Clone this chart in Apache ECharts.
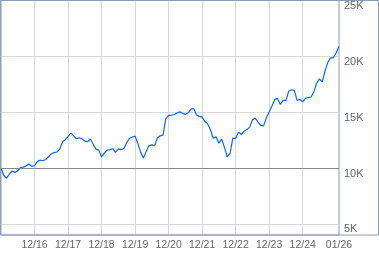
<!DOCTYPE html>
<html><head><meta charset="utf-8">
<script src="https://cdn.jsdelivr.net/npm/echarts@6/dist/echarts.min.js"></script>
<style>html,body{margin:0;padding:0;background:#fff}#c{width:379px;height:255px}</style>
</head><body><div id="c"></div>
<script>
// Monthly, Dec 2015 .. Jan 2026
const startYear = 2015, startMonth = 12;
const values = [
10000,9330,9080,9460,9730,9610,9750,10050,10080,10190,10350,10150,
10200,10570,10710,10650,10760,11010,11260,11380,11430,11680,12330,12530,
12800,13120,12880,12620,12710,12620,12410,12360,12590,12120,11690,11600,
10990,11330,11610,11640,11720,11390,11710,11640,11750,12280,12650,12780,
12850,12200,11400,10900,11490,12010,12070,12000,12700,12880,12940,14430,
14710,14740,14790,14920,15030,14900,14800,14940,15280,15330,14740,14620,
14550,14160,13950,13400,12660,12790,12220,12590,11840,10990,11300,12680,
12650,13210,13000,13280,13450,13640,14300,14480,14100,13810,13770,14490,
15020,15550,16140,16230,15690,16050,16050,16870,17010,16950,16050,16140,
15930,16230,16310,16360,16810,17580,17980,17710,18700,19460,19870,19870,
20320,20900
];
const categories = values.map((v, i) => {
  const m0 = startMonth - 1 + i;
  const y = startYear + Math.floor(m0 / 12);
  const m = (m0 % 12) + 1;
  return String(m).padStart(2, '0') + '/' + String(y % 100).padStart(2, '0');
});
const yTicks = [5000, 10000, 15000, 20000, 25000];
const baseline = 10000;
const last = categories.length - 1;

const isGrid = (i, v) => v.startsWith('12/') && i > 0 && i < last - 6;
const isLabel = (i, v) => isGrid(i, v) || i === last;

const chart = echarts.init(document.getElementById('c'), null, {renderer: 'canvas'});
chart.setOption({
  animation: false,
  backgroundColor: '#fff',
  grid: {left: 1, right: 40, top: 0.5, bottom: 20, show: true, borderColor: '#8a9cb8', borderWidth: 1, backgroundColor: 'transparent'},
  xAxis: {
    type: 'category', data: categories, boundaryGap: false,
    axisLine: {show: false}, axisTick: {show: false},
    axisLabel: {interval: isLabel, color: '#666', fontFamily: 'Liberation Sans, Arial, sans-serif', fontSize: 10.5, margin: 5},
    splitLine: {show: true, interval: isGrid, lineStyle: {color: '#d9d9d9', width: 1}}
  },
  yAxis: {
    type: 'value', position: 'right', min: 4000, max: 25000,
    axisLine: {show: false},
    axisTick: {show: false, customValues: yTicks},
    axisLabel: {customValues: yTicks, formatter: v => (v / 1000) + 'K', color: '#666', fontFamily: 'Liberation Sans, Arial, sans-serif', fontSize: 11, margin: 5, verticalAlign: 'top'},
    splitLine: {show: true, lineStyle: {color: '#d9d9d9', width: 1}}
  },
  graphic: [{type: 'rect', shape: {x: 0.5, y: 0.5, width: 378, height: 234.5}, style: {fill: 'none', stroke: '#8a9cb8', lineWidth: 1}, z: 10, silent: true}],
  series: [
    {type: 'line', data: [], z: 1, markLine: {silent: true, symbol: 'none', label: {show: false}, lineStyle: {color: '#888888', type: 'solid', width: 1.2}, data: [{yAxis: baseline}]}},
    {type: 'line', data: values, z: 3, symbol: 'none', lineStyle: {color: '#0a66ff', width: 1.2}}
  ]
});
</script></body></html>
